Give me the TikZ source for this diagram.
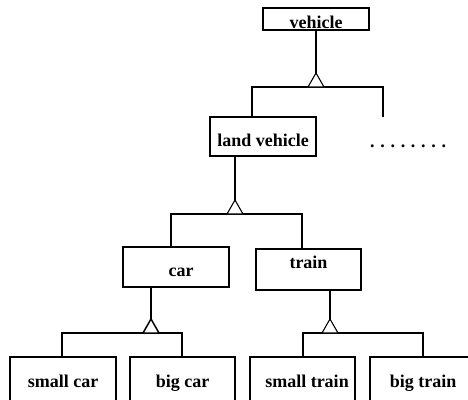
\documentclass[tikz,border=0pt]{standalone}
\usepackage{fontspec}
\setmainfont{Liberation Serif}
\begin{document}
\begin{tikzpicture}[x=1pt,y=-1pt,
  every node/.style={font=\fontsize{18}{20}\selectfont\bfseries},
  box/.style={draw, line width=1.1pt, inner sep=0pt, minimum width=105pt, minimum height=#1},
  raise/.style={text height=#1, text depth=0pt},
  sink/.style={text height=0pt, text depth=#1},
  leaf/.style={box=60pt, raise=0pt},
  link/.style={line width=1.1pt},
  heavy/.style={line width=1.8pt},
  gen/.style={line width=1.1pt, fill=white, line join=miter}]
\useasboundingbox (0,0) rectangle (468,399);

% classes
\node[box=22pt, minimum width=106pt, raise=18pt] (vehicle) at (316,19) {vehicle};
\node[box=39pt, minimum width=106pt, raise=20pt] (land) at (263,136.5) {land vehicle};
\node[box=40pt, minimum width=106pt, raise=18pt] (car) at (176,267) {\hspace{10pt}car};
\node[box=41pt, sink=3pt] (train) at (308.5,269.5) {train};
\node[leaf, minimum width=106pt] (smallcar) at (63,387) {small car\hspace{4pt}};
\node[leaf] (bigcar) at (182.5,387) {big car\hspace{21pt}};
\node[leaf] (smalltrain) at (302.5,387) {\hspace{9pt}small train};
\node[leaf, minimum width=106pt] (bigtrain) at (423,387) {big train\hspace{8pt}};
\node[anchor=base west, inner sep=0pt] (more) at (370,147)
  {.\hspace{5.7pt}.\hspace{5.7pt}.\hspace{5.7pt}.\hspace{5.7pt}.\hspace{5.7pt}.\hspace{5.7pt}.\hspace{5.7pt}.};

% vehicle -> land vehicle, ...
\coordinate (a1) at (316,73);
\coordinate (b1l) at (252,87);
\coordinate (b1r) at (383,87);
\coordinate (e1) at (383,117);
\draw[link] (vehicle.south) -- (a1);
\draw[link] (b1l |- land.north) -- (b1l) -- (b1r) -- (e1);
\draw[gen] (a1) -- ++(-8,14) -- ++(16,0) -- cycle;

% land vehicle -> car, train
\coordinate (a2) at (235,200);
\coordinate (b2l) at (171,214);
\coordinate (b2r) at (302,214);
\draw[link] (a2 |- land.south) -- (a2);
\draw[link] (b2l |- car.north) -- (b2l) -- (b2r) -- (b2r |- train.north);
\draw[gen] (a2) -- ++(-8,14) -- ++(16,0) -- cycle;

% car -> small car, big car
\coordinate (a3) at (151,319);
\coordinate (b3l) at (62,333);
\coordinate (b3r) at (182,333);
\draw[heavy] (a3 |- car.south) -- (a3);
\draw[link] (b3l |- smallcar.north) -- (b3l) -- (b3r) -- (b3r |- bigcar.north);
\draw[gen, line width=1.5pt] (a3) -- ++(-8,14) -- ++(16,0) -- cycle;

% train -> small train, big train
\coordinate (a4) at (330,319);
\coordinate (b4l) at (303,333);
\coordinate (b4r) at (423,333);
\draw[link] (a4 |- train.south) -- (a4);
\draw[link] (b4l |- smalltrain.north) -- (b4l) -- (b4r) -- (b4r |- bigtrain.north);
\draw[gen] (a4) -- ++(-8,14) -- ++(16,0) -- cycle;
\end{tikzpicture}
\end{document}
